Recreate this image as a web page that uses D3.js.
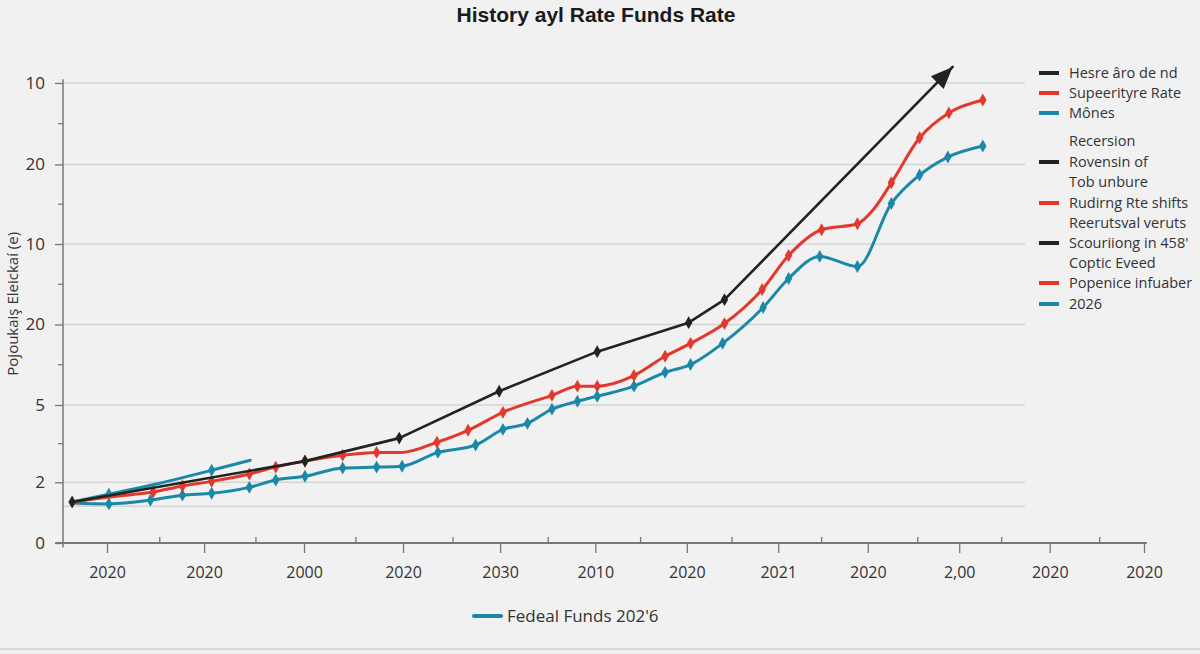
<!DOCTYPE html>
<html>
<head>
<meta charset="utf-8">
<script src="https://cdn.jsdelivr.net/npm/d3@7"></script>
<style>
  body { margin: 0; background: #f1f1f1; }
  svg { display: block; }
</style>
</head>
<body>
<svg width="1200" height="654"></svg>
<script>
const title = 'History ayl Rate Funds Rate';
const yTitle = 'Pojoukaiş Eleickaí (e)';

const xTickValues = [0, 10.3, 20.9, 31.4, 41.7, 51.8, 61.5, 71.2, 80.7, 90.4, 100, 110];
const xTickLabels = ['2020', '2020', '2000', '2020', '2030', '2010', '2020', '2021', '2020', '2,00', '2020', '2020'];
const xMinorTicks = [5.6, 15.8, 26.4, 36.7, 46.8, 56.6, 66.3, 75.8, 86.0, 94.9, 105.3];

const yTickValues = [0, 13.2, 30, 47.5, 65, 82.3, 100];
const yTickLabels = ['0', '2', '5', '20', '10', '20', '10'];
const yMinorTicks = [21.6, 38.75, 56.25, 73.65, 91.15];
const yExtraGrid = [8];

// black trend line (ends in an arrow)
const blackX = [-3.7, 21.0, 31.0, 41.6, 52.0, 61.7, 65.5, 89.7];
const blackY = [8.9, 17.8, 22.8, 33.0, 41.6, 47.9, 52.9, 103.5];

const redX = [-3.7, 0.2, 4.9, 8.0, 11.1, 15.1, 17.9, 21.0, 25.0, 28.6, 31.3, 35.0, 38.3, 42.0, 47.2,
  49.9, 52.0, 55.9, 59.2, 61.9, 65.5, 69.5, 72.3, 75.8, 79.6, 81.3, 83.2, 86.2, 89.3, 92.9];
const redY = [8.9, 10.0, 11.1, 12.4, 13.4, 15.0, 16.5, 17.8, 19.1, 19.7, 19.7, 21.9, 24.5, 28.4, 32.1,
  34.1, 34.1, 36.4, 40.6, 43.4, 47.7, 55.1, 62.5, 68.1, 69.4, 72.5, 78.3, 88.1, 93.5, 96.3];

const tealX = [-3.7, 0.2, 4.6, 8.0, 11.1, 15.1, 17.9, 21.0, 25.0, 28.6, 31.3, 35.1, 39.1, 42.0, 44.6,
  47.2, 49.9, 52.0, 55.9, 59.2, 61.9, 65.3, 69.6, 72.3, 75.6, 79.6, 83.2, 86.2, 89.2, 92.9];
const tealY = [8.7, 8.5, 9.3, 10.4, 10.8, 12.1, 13.7, 14.5, 16.3, 16.5, 16.7, 19.7, 21.3, 24.7, 26.0,
  29.1, 30.8, 31.9, 34.1, 37.1, 38.8, 43.4, 51.2, 57.5, 62.3, 60.1, 73.8, 80.0, 83.9, 86.3];

const tealShortX = [-3.7, 0.2, 5.6, 11.1, 15.2];
const tealShortY = [8.9, 10.6, 13.0, 15.8, 18.0];

const legendLabels = ['Hesre âro de nd', 'Supeerityre Rate', 'Mônes', 'Recersion', 'Rovensin of',
  'Tob unbure', 'Rudirng Rte shifts', 'Reerutsval veruts', 'Scouriiong in 458\'', 'Coptic Eveed',
  'Popenice infuaber', '2026'];
const legendKeys = ['black', 'red', 'teal', null, 'black', null, 'red', null, 'black', null, 'red', 'teal'];
const bottomLegend = 'Fedeal Funds 202\'6';

const colors = { black: '#222222', red: '#e2382d', teal: '#1b88a8' };

const svg = d3.select('svg');
svg.append('rect').attr('width', 1200).attr('height', 654).attr('fill', '#f1f1f1');

const x = d3.scaleLinear().domain([0, 110]).range([107, 1144]);
const y = d3.scaleLinear().domain([0, 100]).range([543, 83]);

// grid
svg.append('g').selectAll('line')
  .data(yTickValues.slice(1).concat(yExtraGrid))
  .enter().append('line')
  .attr('x1', 63).attr('x2', 1025)
  .attr('y1', d => y(d)).attr('y2', d => y(d))
  .attr('stroke', '#d4d4d4').attr('stroke-width', 1.5);

// y axis
const yAxis = svg.append('g')
  .attr('transform', 'translate(63,0)')
  .call(d3.axisLeft(y).tickValues(yTickValues)
    .tickFormat((d, i) => yTickLabels[i]).tickSize(8).tickPadding(10));
yAxis.select('.domain').remove();
yAxis.selectAll('line').attr('stroke', '#777').attr('stroke-width', 1.3);
yAxis.selectAll('text').attr('font-family', 'Open Sans').attr('font-size', 17).attr('fill', '#333');

svg.append('g').selectAll('line')
  .data(yMinorTicks)
  .enter().append('line')
  .attr('x1', 58).attr('x2', 63)
  .attr('y1', d => y(d)).attr('y2', d => y(d))
  .attr('stroke', '#777').attr('stroke-width', 1.3);

svg.append('line')
  .attr('x1', 63).attr('x2', 63)
  .attr('y1', y(100.8)).attr('y2', y(-1))
  .attr('stroke', '#777').attr('stroke-width', 1.5);

svg.append('text')
  .attr('transform', 'translate(18,' + y(52) + ') rotate(-90)')
  .attr('text-anchor', 'middle')
  .attr('font-family', 'Open Sans').attr('font-size', 15).attr('fill', '#333')
  .text(yTitle);

// x axis
const xAxis = svg.append('g')
  .attr('transform', 'translate(0,' + y(0) + ')')
  .call(d3.axisBottom(x).tickValues(xTickValues)
    .tickFormat((d, i) => xTickLabels[i]).tickSize(10).tickPadding(14));
xAxis.select('.domain').remove();
xAxis.selectAll('line').attr('stroke', '#777').attr('stroke-width', 1.3);
xAxis.selectAll('text').attr('font-family', 'Open Sans').attr('font-size', 16).attr('fill', '#333');

svg.append('g').selectAll('line')
  .data(xMinorTicks)
  .enter().append('line')
  .attr('x1', d => x(d)).attr('x2', d => x(d))
  .attr('y1', y(0) - 6).attr('y2', y(0))
  .attr('stroke', '#777').attr('stroke-width', 1.3);

svg.append('line')
  .attr('x1', x(-5.5)).attr('x2', x(110.3))
  .attr('y1', y(0)).attr('y2', y(0))
  .attr('stroke', '#777').attr('stroke-width', 1.8);

// arrow marker
svg.append('defs').append('marker')
  .attr('id', 'arrow')
  .attr('markerUnits', 'userSpaceOnUse')
  .attr('viewBox', '0 -10 22 20')
  .attr('refX', 22).attr('refY', 0)
  .attr('markerWidth', 22).attr('markerHeight', 20)
  .attr('orient', 'auto')
  .append('path').attr('d', 'M0,-9L22,0L0,9Z').attr('fill', colors.black);

const zip = (xs, ys) => xs.map((v, i) => [v, ys[i]]);
const lineSmooth = d3.line().x(d => x(d[0])).y(d => y(d[1])).curve(d3.curveMonotoneX);
const lineStraight = d3.line().x(d => x(d[0])).y(d => y(d[1]));

const diamond = d3.symbol().type(d3.symbolDiamond).size(48);

function drawSeries(data, color, width, gen, markers, arrow) {
  const path = svg.append('path')
    .datum(data)
    .attr('d', gen)
    .attr('fill', 'none')
    .attr('stroke', color)
    .attr('stroke-width', width)
    .attr('stroke-linejoin', 'round')
    .attr('stroke-linecap', 'round');
  if (arrow) path.attr('marker-end', 'url(#arrow)');
  svg.append('g').selectAll('path')
    .data(markers)
    .enter().append('path')
    .attr('d', diamond)
    .attr('transform', d => 'translate(' + x(d[0]) + ',' + y(d[1]) + ')')
    .attr('fill', color);
}

const tealShort = zip(tealShortX, tealShortY);
const teal = zip(tealX, tealY);
const red = zip(redX, redY);
const black = zip(blackX, blackY);

drawSeries(tealShort, colors.teal, 3, lineSmooth, [tealShort[1], tealShort[3]], false);
drawSeries(teal, colors.teal, 3, lineSmooth, teal.slice(1), false);
drawSeries(red, colors.red, 3, lineSmooth, red.slice(2).filter(d => d[0] !== 31.3 && d[0] !== 81.3), false);
drawSeries(black, colors.black, 2.6, lineStraight, black.slice(0, -1), true);

// title
svg.append('text')
  .attr('x', 596).attr('y', 22)
  .attr('text-anchor', 'middle')
  .attr('font-family', 'Liberation Sans').attr('font-weight', 'bold')
  .attr('font-size', 21).attr('fill', '#1a1a1a')
  .text(title);

// right legend
const legendY = [73, 93, 113, 141, 162, 182, 203, 223, 243, 263, 283, 304];
const rows = svg.append('g').selectAll('g')
  .data(legendLabels)
  .enter().append('g')
  .attr('transform', (d, i) => 'translate(1039,' + legendY[i] + ')');
rows.filter((d, i) => legendKeys[i] !== null)
  .append('line')
  .attr('x1', 0).attr('x2', 20)
  .attr('stroke', d => colors[legendKeys[legendLabels.indexOf(d)]])
  .attr('stroke-width', 4);
rows.append('text')
  .attr('x', 30).attr('dy', '0.35em')
  .attr('font-family', 'Open Sans').attr('font-size', 14.5).attr('fill', '#333')
  .text(d => d);

// bottom legend
svg.append('line')
  .attr('x1', 474).attr('x2', 501).attr('y1', 616).attr('y2', 616)
  .attr('stroke', colors.teal).attr('stroke-width', 4).attr('stroke-linecap', 'round');
svg.append('text')
  .attr('x', 507).attr('y', 616).attr('dy', '0.35em')
  .attr('font-family', 'Open Sans').attr('font-size', 17).attr('fill', '#333')
  .text(bottomLegend);

svg.append('line')
  .attr('x1', 0).attr('x2', 1200).attr('y1', 649).attr('y2', 649)
  .attr('stroke', '#d0d0d0').attr('stroke-width', 1.5);
</script>
</body>
</html>
